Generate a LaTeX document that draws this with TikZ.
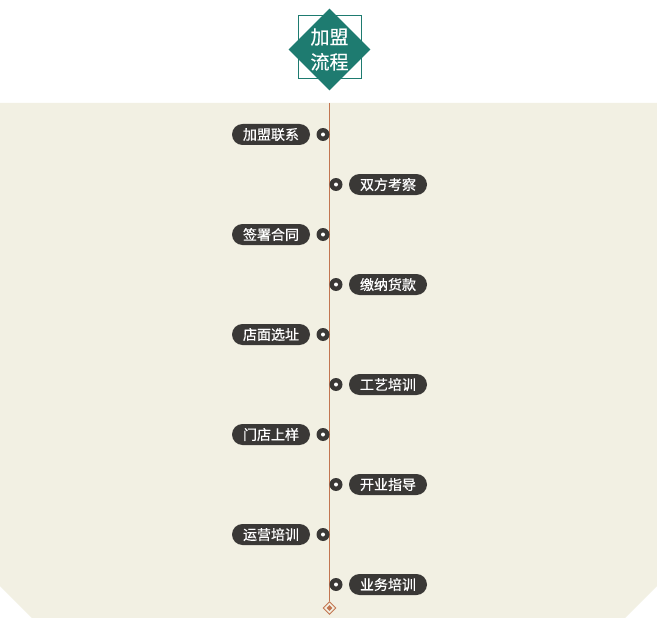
\documentclass[tikz,border=0pt]{standalone}
\usepackage{fontspec}
\setmainfont{Noto Sans CJK SC}
\newfontfamily\cjk[FakeBold=0.5]{Noto Sans CJK SC}
\usetikzlibrary{shapes.geometric}
\definecolor{bgbeige}{HTML}{F2F0E3}
\definecolor{teal}{HTML}{1E7B70}
\definecolor{pilldark}{HTML}{3A3836}
\definecolor{lineor}{HTML}{C27550}
\tikzset{
  pill/.style={fill=pilldark, text=white, rounded corners=10.5pt, minimum height=21pt, minimum width=78pt, inner sep=0pt, font=\cjk\fontsize{14}{14}\selectfont},
  dotc/.style={circle, fill=pilldark, minimum size=13pt, inner sep=0pt},
  dotin/.style={circle, fill=white, minimum size=4pt, inner sep=0pt},
}
\begin{document}
\begin{tikzpicture}[x=1pt,y=-1pt]
\useasboundingbox (0,0) rectangle (657,618);
\fill[white] (0,0) rectangle (657,618);
\fill[bgbeige] (0,103) -- (657,103) -- (657,586) -- (625,618) -- (32,618) -- (0,586) -- cycle;
% title
\node[diamond, fill=teal, minimum width=82pt, minimum height=82pt, inner sep=0pt] (title) at (329.5,49.5) {};
\draw[teal, line width=0.6pt] (298,15.5) rectangle (361,78.5);
\node[text=white, font=\cjk\fontsize{19}{25}\selectfont, align=center] (titletext) at (329.5,49.5) {加盟\\流程};
% timeline
\coordinate (ltop) at (329.5,103);
\node[diamond, draw=lineor, fill=bgbeige, line width=0.9pt, minimum width=13pt, minimum height=13pt, inner sep=0pt] (lend) at (329.5,608) {};
\node[diamond, fill=lineor, minimum width=6pt, minimum height=6pt, inner sep=0pt] at (lend) {};
\draw[lineor, line width=1.1pt] (ltop) -- (lend.north);
% items
\foreach \i/\t in {0/加盟联系,2/签署合同,4/店面选址,6/门店上样,8/运营培训}{
  \pgfmathsetmacro\yy{134.5+50*\i}
  \node[pill] (p\i) at (271,\yy) {\t};
  \node[dotc] (d\i) at (323,\yy) {};
  \node[dotin] at (d\i) {};
}
\foreach \i/\t in {1/双方考察,3/缴纳货款,5/工艺培训,7/开业指导,9/业务培训}{
  \pgfmathsetmacro\yy{134.5+50*\i}
  \node[pill] (p\i) at (388,\yy) {\t};
  \node[dotc] (d\i) at (336,\yy) {};
  \node[dotin] at (d\i) {};
}
\end{tikzpicture}
\end{document}
